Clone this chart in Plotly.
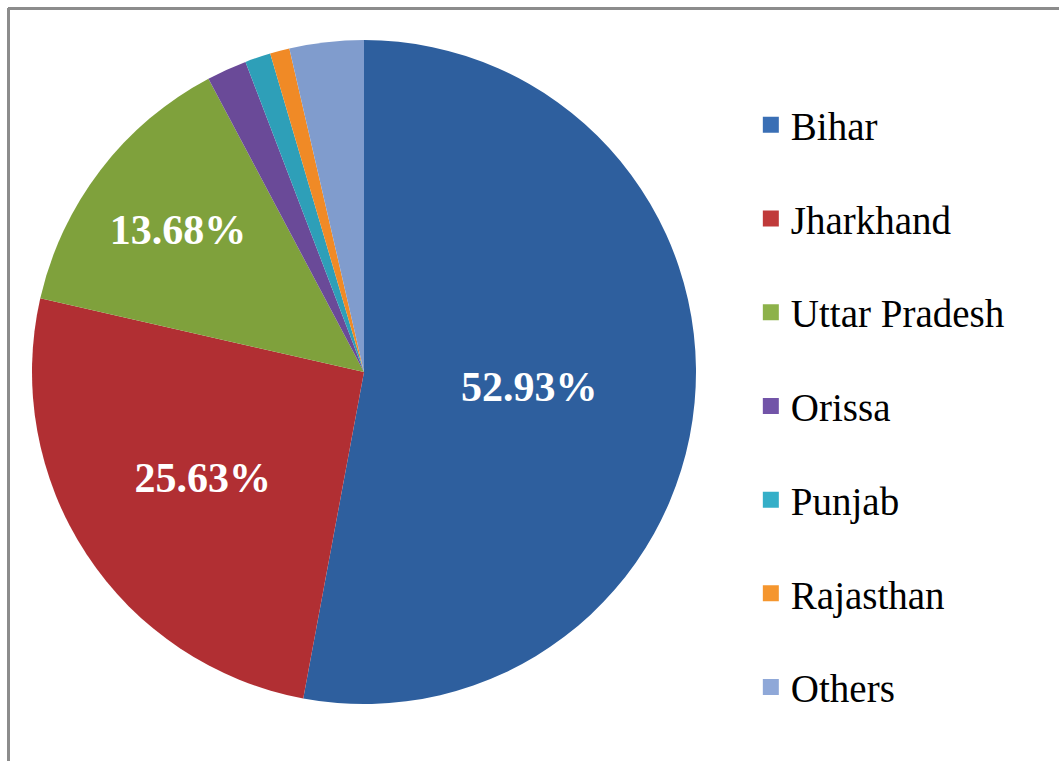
import plotly.graph_objects as go

states = ["Bihar", "Jharkhand", "Uttar Pradesh", "Orissa", "Punjab", "Rajasthan", "Others"]
shares = [52.93, 25.63, 13.68, 1.95, 1.25, 0.95, 3.61]
slice_text = ["52.93%", "25.63%", "13.68%", "", "", "", ""]
slice_colors = ["#2E5F9E", "#B12F33", "#7FA13C", "#6A4A98", "#2E9FB8", "#F08A26", "#809CCD"]
legend_colors = ["#3A6FB5", "#C03A3A", "#8DB24A", "#7254A8", "#35AFC8", "#F5962E", "#8FA8D8"]

W, H = 1059, 761
cx, cy, r = 364, 372, 332
SERIF = "Liberation Serif, Times New Roman, serif"

fig = go.Figure()
fig.add_trace(go.Pie(
    labels=states, values=shares, text=slice_text,
    textinfo="text", textposition="inside", insidetextorientation="horizontal",
    sort=False, direction="clockwise", rotation=0,
    marker=dict(colors=slice_colors, line=dict(width=0)),
    textfont=dict(family=SERIF, size=42, color="white", weight="bold"),
    showlegend=False, hoverinfo="label+percent",
    domain=dict(x=[(cx - r) / W, (cx + r) / W], y=[(H - cy - r) / H, (H - cy + r) / H]),
))

for name, col in zip(states, legend_colors):
    fig.add_trace(go.Scatter(
        x=[None], y=[None], mode="markers", name=name, legendgroup=name,
        marker=dict(symbol="square", size=16, color=col, line=dict(width=0)),
        hoverinfo="skip",
    ))

fig.update_layout(
    width=W, height=H,
    margin=dict(l=0, r=0, t=0, b=0),
    paper_bgcolor="white", plot_bgcolor="white",
    xaxis=dict(visible=False), yaxis=dict(visible=False),
    legend=dict(
        x=0.709, xanchor="left", y=1 - 93 / H, yanchor="top",
        font=dict(family=SERIF, size=39, color="black"),
        tracegroupgap=40, traceorder="grouped", itemsizing="trace",
        bgcolor="rgba(0,0,0,0)",
    ),
    shapes=[
        dict(type="line", xref="paper", yref="paper", x0=8 / W, y0=1 - 8.5 / H, x1=1, y1=1 - 8.5 / H,
             line=dict(color="#8C8C8C", width=3)),
        dict(type="line", xref="paper", yref="paper", x0=8.5 / W, y0=1 - 8 / H, x1=8.5 / W, y1=0,
             line=dict(color="#8C8C8C", width=3)),
    ],
)

fig.write_html("out.html", config={"displayModeBar": False},
               post_script="document.body.style.margin='0';")
